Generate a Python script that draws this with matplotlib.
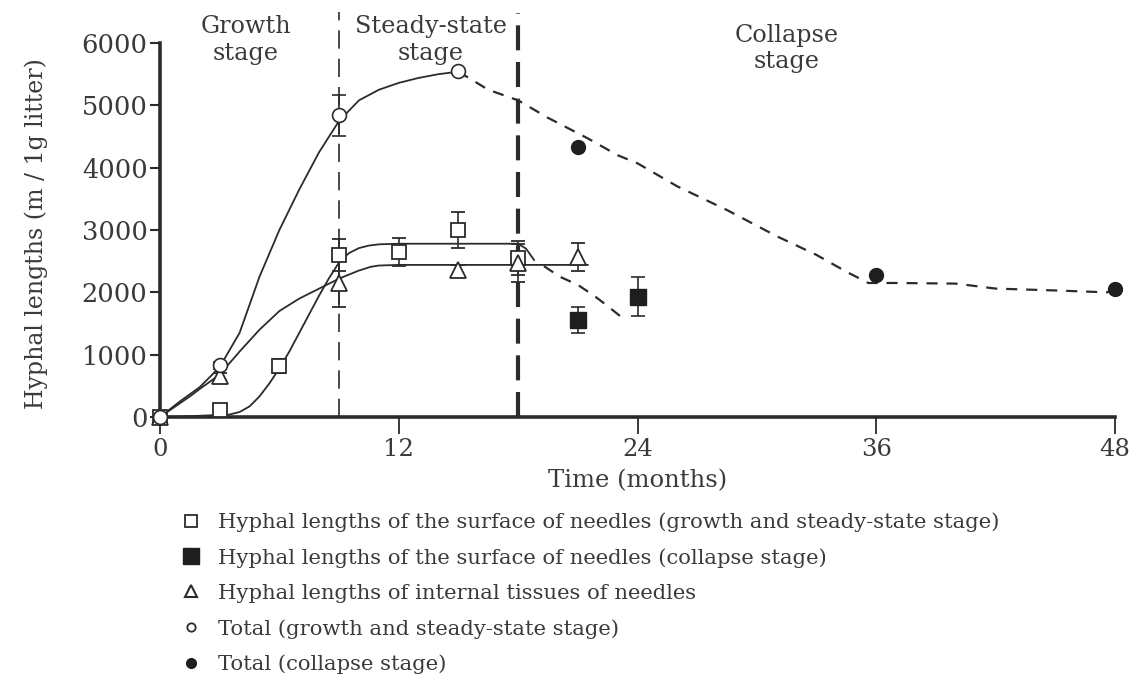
import numpy as np
import matplotlib.pyplot as plt
from matplotlib.lines import Line2D

plt.rcParams['font.family'] = ['DejaVu Serif']
ink = '#2b2b2b'
txt = '#3a3a3a'

# sampled months
surf_x = [0, 3, 6, 9, 12, 15, 18]
surf_y = [0, 120, 820, 2600, 2650, 3000, 2550]
surf_err = [0, 60, 110, 250, 220, 290, 270]

collapse_surf_x = [21, 24]
collapse_surf_y = [1560, 1930]
collapse_surf_err = [210, 310]

inner_x = [0, 3, 9, 15, 18, 21]
inner_y = [0, 650, 2150, 2360, 2470, 2570]
inner_err = [0, 60, 380, 80, 300, 220]

total_x = [0, 3, 9, 15]
total_y = [0, 830, 4840, 5550]
total_err = [0, 60, 330, 0]

collapse_total_x = [21, 36, 48]
collapse_total_y = [4330, 2280, 2060]

# hand-fitted trend lines (months, m / 1g litter)
total_fit_x = [0, 1, 2, 3, 4, 4.5, 5, 6, 7, 8, 9, 10, 11, 12, 13, 14, 15]
total_fit_y = [0, 250, 480, 800, 1350, 1800, 2250, 3000, 3650, 4250, 4750,
               5080, 5250, 5360, 5440, 5500, 5540]
total_decline_x = [15, 16.5, 18, 19.5, 21.5, 23, 24, 26, 28.5, 31, 33, 34.5,
                   35.6, 37, 40, 42, 45, 47.6, 48]
total_decline_y = [5540, 5250, 5080, 4800, 4470, 4200, 4070, 3700, 3320,
                   2900, 2600, 2330, 2150, 2150, 2140, 2060, 2030, 2000, 2060]

surf_fit_x = [0, 2, 3.5, 4, 4.5, 5, 5.5, 6, 6.5, 7, 7.5, 8, 8.5, 9, 9.5, 10,
              10.5, 11, 12, 18, 18.4, 18.8]
surf_fit_y = [0, 20, 40, 80, 170, 330, 540, 780, 1050, 1350, 1650, 1950,
              2230, 2480, 2630, 2710, 2750, 2770, 2780, 2780, 2700, 2520]
surf_decline_x = [19.3, 20.1, 21, 21.8, 22.5, 23.2]
surf_decline_y = [2420, 2250, 2120, 1950, 1780, 1600]

inner_fit_x = [0, 1, 1.5, 2, 3, 4, 5, 6, 7, 8, 9, 10, 10.6, 11, 12, 21.5]
inner_fit_y = [0, 220, 330, 450, 680, 1050, 1400, 1700, 1900, 2060, 2220,
               2350, 2410, 2430, 2440, 2440]

stage_bounds = [9, 18]
stage_labels = ['Growth\nstage', 'Steady-state\nstage', 'Collapse\nstage']
stage_label_x = [4.3, 13.6, 31.5]
stage_label_y = [6050, 6050, 5910]

x_ticks = [0, 12, 24, 36, 48]
y_ticks = [0, 1000, 2000, 3000, 4000, 5000, 6000]

legend_labels = [
    'Hyphal lengths of the surface of needles (growth and steady-state stage)',
    'Hyphal lengths of the surface of needles (collapse stage)',
    'Hyphal lengths of internal tissues of needles',
    'Total (growth and steady-state stage)',
    'Total (collapse stage)',
]

fig = plt.figure(figsize=(11.35, 6.81), dpi=100)
ax = fig.add_axes([160 / 1135, 264 / 681, 955 / 1135, 374 / 681])

# trend lines
ax.plot(total_fit_x, total_fit_y, color=ink, lw=1.3)
ax.plot(total_decline_x, total_decline_y, color=ink, lw=1.6, dashes=(5, 4))
ax.plot(surf_fit_x, surf_fit_y, color=ink, lw=1.3)
ax.plot(surf_decline_x, surf_decline_y, color=ink, lw=1.6, dashes=(5, 4))
ax.plot(inner_fit_x, inner_fit_y, color=ink, lw=1.3)

# stage boundaries
ax.plot([stage_bounds[0]] * 2, [0, 6490], color=ink, lw=1.2,
        dashes=(11, 6), clip_on=False)
ax.plot([stage_bounds[1]] * 2, [0, 6480], color=ink, lw=3,
        dashes=(6, 2.8), clip_on=False)

# measured points
eb = dict(ecolor=ink, elinewidth=1.2, capsize=5, capthick=1.2,
          linestyle='none', clip_on=False, zorder=4)
ax.errorbar(surf_x, surf_y, yerr=surf_err, fmt='s', ms=10, mfc='white',
            mec=ink, mew=1.3, **eb)
ax.errorbar(collapse_surf_x, collapse_surf_y, yerr=collapse_surf_err,
            fmt='s', ms=12, mfc='#1e1e1e', mec='#1e1e1e', **eb)
ax.errorbar(inner_x, inner_y, yerr=inner_err, fmt='^', ms=11, mfc='white',
            mec=ink, mew=1.3, **eb)
ax.errorbar(total_x, total_y, yerr=total_err, fmt='o', ms=10, mfc='white',
            mec=ink, mew=1.2, **eb)
ax.plot(collapse_total_x, collapse_total_y, 'o', ms=10, color='#1e1e1e',
        clip_on=False, zorder=4)

for lab, lx, ly in zip(stage_labels, stage_label_x, stage_label_y):
    ax.text(lx, ly, lab, ha='center', va='center', fontsize=17.2,
            color=txt, linespacing=1.2)

ax.set_xlim(0, 48)
ax.set_ylim(0, 6000)
ax.set_xticks(x_ticks)
ax.set_yticks(y_ticks)
ax.set_xticklabels([str(t) for t in x_ticks])
ax.set_yticklabels([str(t) for t in y_ticks])
ax.tick_params(axis='x', direction='out', length=12, width=1.3, pad=3,
               labelsize=17.5, colors=ink, labelcolor=txt)
ax.tick_params(axis='y', direction='out', length=7, width=1.5, pad=2,
               labelsize=18.5, colors=ink, labelcolor=txt)
for side in ['top', 'right']:
    ax.spines[side].set_visible(False)
for side in ['left', 'bottom']:
    ax.spines[side].set_linewidth(2.6)
    ax.spines[side].set_color(ink)
ax.set_xlabel('Time (months)', fontsize=17.5, color=txt)
ax.set_ylabel('Hyphal lengths (m / 1g litter)', fontsize=17, color=txt)
ax.xaxis.set_label_coords(0.5, -0.14)
ax.yaxis.set_label_coords(-0.117, 0.49)

handles = [
    Line2D([], [], ls='none', marker='s', ms=8, mfc='white', mec=ink, mew=1.3),
    Line2D([], [], ls='none', marker='s', ms=11, mfc='#1e1e1e', mec='#1e1e1e'),
    Line2D([], [], ls='none', marker='^', ms=9, mfc='white', mec=ink, mew=1.5),
    Line2D([], [], ls='none', marker='o', ms=6, mfc='white', mec=ink, mew=1.3),
    Line2D([], [], ls='none', marker='o', ms=7, mfc='#1e1e1e', mec='#1e1e1e'),
]
fig.legend(handles, legend_labels, loc='upper left',
           bbox_to_anchor=(170 / 1135, 1 - 504 / 681), frameon=False,
           fontsize=15.2, labelcolor=txt, handletextpad=0.65,
           handlelength=1.2, labelspacing=0.76, borderaxespad=0)

fig.savefig('out.png', dpi=100, facecolor='white')
